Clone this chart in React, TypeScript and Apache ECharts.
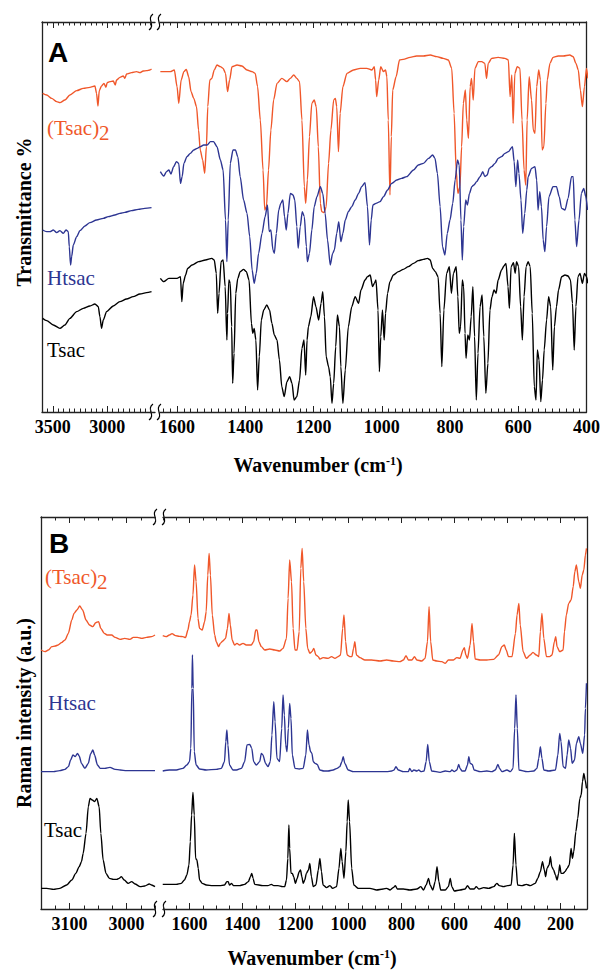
import React, { useEffect, useRef } from 'react';
import * as echarts from 'echarts';

type P = [number, number][];

// ---------- Panel A: IR (wavenumber cm-1, offset transmittance a.u.) ----------
const irTsac2Hi: P = [[3594,956],[3557,951],[3511,941],[3465,931],[3435,928],[3389,936],[3343,951],[3281,964],[3220,971],[3159,974],[3113,978],[3098,956],[3085,918],[3073,964],[3052,978],[3030,986],[3012,974],[3000,988],[2975,991],[2944,993],[2926,981],[2914,996],[2883,1004],[2852,1008],[2837,1001],[2822,1014],[2776,1018],[2730,1021],[2699,1018],[2669,1023],[2638,1024],[2607,1026],[2592,1029]];
const irHtsacHi: P = [[3594,546],[3557,541],[3526,541],[3496,546],[3465,538],[3435,544],[3404,536],[3379,546],[3358,541],[3349,496],[3337,441],[3327,466],[3312,501],[3281,526],[3251,544],[3205,558],[3159,568],[3098,576],[3036,581],[2990,586],[2929,591],[2883,596],[2837,599],[2776,604],[2715,608],[2653,611],[2592,613]];
const irTsacHi: P = [[3594,281],[3557,274],[3496,261],[3435,251],[3389,261],[3343,281],[3281,301],[3220,311],[3159,318],[3113,324],[3082,316],[3067,286],[3052,251],[3036,276],[3006,301],[2944,318],[2883,331],[2822,339],[2761,346],[2699,354],[2638,358],[2592,361]];

const irTsac2Lo: P = [[1649,1021],[1620,1021],[1608,1026],[1600,976],[1595,926],[1588,996],[1580,1021],[1573,1028],[1566,1006],[1559,961],[1551,941],[1543,916],[1537,846],[1532,786],[1525,756],[1519,716],[1514,796],[1510,916],[1504,996],[1498,1001],[1491,1026],[1483,1041],[1473,1036],[1465,1031],[1458,1016],[1452,961],[1446,996],[1439,1036],[1424,1041],[1410,1038],[1395,1026],[1380,1021],[1371,1016],[1364,976],[1356,876],[1348,726],[1343,606],[1338,616],[1332,726],[1325,846],[1317,936],[1307,986],[1293,1001],[1278,991],[1268,1001],[1258,1011],[1249,1001],[1241,991],[1234,876],[1227,676],[1223,626],[1218,696],[1212,826],[1205,926],[1198,936],[1192,916],[1186,796],[1180,626],[1176,601],[1169,598],[1163,616],[1156,746],[1149,846],[1141,936],[1136,941],[1132,916],[1127,781],[1122,896],[1114,976],[1102,1016],[1083,1026],[1063,1031],[1044,1031],[1029,1026],[1022,1036],[1018,996],[1015,946],[1009,996],[1003,1036],[995,1021],[989,1026],[985,1006],[981,876],[976,651],[972,826],[968,966],[958,1006],[948,1056],[937,1058],[917,1064],[898,1068],[878,1068],[858,1071],[839,1066],[820,1061],[805,1056],[795,1031],[788,896],[782,726],[777,656],[771,676],[766,796],[761,926],[755,966],[751,876],[746,821],[741,976],[737,1001],[732,936],[727,1031],[717,1051],[707,1051],[698,1046],[693,1001],[688,1046],[678,1061],[659,1064],[639,1061],[629,1056],[624,946],[619,1011],[615,866],[610,1016],[603,1036],[595,1031],[589,876],[583,726],[578,681],[574,876],[568,1006],[561,936],[556,846],[551,836],[546,976],[540,1026],[535,996],[530,786],[525,796],[519,926],[515,996],[507,1046],[498,1064],[483,1068],[468,1068],[449,1071],[439,1066],[431,1046],[424,1026],[418,966],[412,916],[406,976],[400,1031],[396,1001]];
const irHtsacLo: P = [[1649,721],[1639,708],[1631,721],[1624,726],[1618,714],[1610,736],[1602,751],[1595,746],[1590,686],[1585,706],[1580,746],[1571,766],[1561,776],[1551,786],[1541,791],[1532,796],[1522,801],[1512,801],[1502,811],[1493,811],[1483,796],[1473,756],[1465,726],[1458,576],[1454,451],[1450,576],[1444,746],[1436,786],[1429,786],[1422,766],[1415,706],[1405,636],[1395,596],[1387,526],[1380,426],[1374,386],[1368,416],[1361,476],[1351,536],[1342,586],[1335,621],[1330,541],[1325,546],[1319,486],[1315,476],[1309,536],[1302,606],[1296,626],[1290,636],[1285,586],[1280,546],[1275,596],[1268,656],[1260,651],[1255,636],[1249,556],[1245,491],[1239,556],[1233,601],[1227,586],[1221,496],[1218,451],[1212,476],[1205,546],[1198,616],[1190,646],[1180,676],[1173,656],[1166,596],[1159,516],[1151,441],[1144,476],[1139,486],[1132,536],[1126,571],[1120,511],[1114,536],[1107,576],[1098,601],[1088,616],[1078,636],[1068,656],[1059,676],[1049,688],[1042,616],[1036,501],[1031,576],[1026,621],[1017,626],[1005,631],[995,646],[983,666],[971,686],[956,696],[942,701],[927,706],[907,726],[893,741],[878,746],[863,761],[851,771],[844,761],[837,716],[829,616],[822,496],[815,471],[808,536],[800,576],[792,626],[785,696],[778,756],[773,741],[768,576],[764,456],[760,556],[754,636],[749,621],[743,656],[736,676],[730,681],[722,691],[712,706],[704,721],[698,706],[691,711],[685,731],[678,736],[668,746],[659,761],[649,766],[639,776],[629,781],[617,796],[612,751],[607,676],[602,756],[598,716],[592,636],[587,536],[581,596],[575,666],[571,706],[561,731],[551,736],[546,696],[542,606],[537,661],[532,616],[527,516],[522,481],[517,556],[510,646],[498,676],[488,676],[480,646],[473,611],[463,606],[454,641],[444,706],[439,706],[434,576],[429,496],[422,576],[415,656],[408,671],[402,646],[397,606]];
const irTsacLo: P = [[1649,401],[1639,391],[1624,401],[1610,401],[1600,401],[1590,406],[1586,331],[1582,386],[1575,411],[1569,431],[1556,441],[1537,451],[1517,456],[1498,461],[1491,456],[1485,416],[1481,296],[1477,356],[1471,451],[1465,456],[1459,376],[1454,216],[1452,296],[1448,396],[1444,386],[1440,256],[1437,86],[1433,176],[1428,356],[1422,401],[1415,421],[1405,428],[1397,421],[1389,396],[1382,266],[1378,236],[1374,251],[1369,216],[1364,66],[1359,166],[1353,276],[1346,306],[1337,321],[1329,306],[1322,266],[1315,231],[1307,216],[1300,156],[1293,76],[1286,46],[1278,91],[1270,106],[1263,86],[1257,36],[1249,46],[1241,96],[1234,191],[1228,216],[1223,111],[1219,216],[1215,256],[1208,286],[1200,346],[1193,316],[1185,276],[1178,326],[1173,361],[1168,286],[1163,166],[1156,136],[1151,106],[1146,26],[1141,86],[1135,196],[1130,291],[1124,256],[1120,136],[1114,26],[1107,126],[1098,256],[1088,316],[1078,346],[1068,326],[1061,366],[1049,396],[1042,406],[1034,411],[1027,376],[1022,386],[1017,396],[1011,306],[1007,121],[1003,226],[998,306],[993,216],[989,296],[983,356],[976,391],[966,411],[951,421],[937,428],[922,436],[907,446],[893,454],[878,458],[866,461],[858,456],[851,431],[843,421],[835,406],[829,296],[824,136],[818,306],[810,416],[802,436],[796,356],[790,416],[782,436],[777,346],[773,236],[769,256],[764,396],[760,376],[756,236],[753,161],[748,231],[743,216],[738,286],[733,376],[728,226],[723,36],[718,176],[712,316],[706,351],[701,226],[695,56],[689,146],[683,306],[677,346],[671,366],[665,356],[659,396],[649,426],[642,438],[636,446],[630,376],[626,311],[621,436],[614,448],[609,416],[605,451],[599,436],[593,316],[588,216],[583,346],[577,436],[571,451],[565,436],[559,296],[553,76],[548,36],[544,186],[539,156],[534,31],[529,96],[524,186],[517,276],[511,346],[505,316],[499,126],[494,256],[488,316],[482,366],[473,406],[463,411],[454,408],[447,396],[441,326],[436,186],[431,316],[425,406],[419,416],[412,386],[406,416],[400,406],[396,386]];

// ---------- Panel B: Raman (wavenumber cm-1, offset intensity a.u.) ----------
const raTsac2Hi: P = [[3150,777],[3143,772],[3137,777],[3131,787],[3125,789],[3120,792],[3114,799],[3108,807],[3102,827],[3096,867],[3092,887],[3087,897],[3082,909],[3077,897],[3071,867],[3065,852],[3059,847],[3054,859],[3049,862],[3045,842],[3039,827],[3034,822],[3026,822],[3020,815],[3011,809],[3003,812],[2994,809],[2988,815],[2981,815],[2973,812],[2965,815],[2956,817],[2950,822]];
const raHtsacHi: P = [[3150,412],[3140,412],[3128,412],[3117,415],[3108,419],[3102,427],[3098,447],[3094,462],[3090,457],[3086,467],[3083,459],[3079,437],[3073,422],[3067,437],[3063,465],[3059,477],[3056,462],[3051,432],[3046,422],[3038,422],[3029,425],[3020,419],[3011,417],[3000,415],[2988,415],[2970,415],[2950,415]];
const raTsacHi: P = [[3150,62],[3140,62],[3128,59],[3117,62],[3105,72],[3096,87],[3089,107],[3083,127],[3079,142],[3076,167],[3071,227],[3067,307],[3064,332],[3060,327],[3056,322],[3052,332],[3048,307],[3045,227],[3041,147],[3036,107],[3030,92],[3023,89],[3017,89],[3013,92],[3009,97],[3004,87],[2997,77],[2991,82],[2985,75],[2976,67],[2968,69],[2960,75],[2956,72],[2950,67]];

const raTsac2Lo: P = [[1701,820],[1688,817],[1676,822],[1666,826],[1653,820],[1638,818],[1625,817],[1615,814],[1606,837],[1600,862],[1594,882],[1587,942],[1581,1032],[1575,982],[1568,872],[1562,842],[1552,837],[1543,862],[1537,892],[1531,1002],[1526,1067],[1521,1002],[1514,882],[1505,822],[1499,802],[1490,787],[1484,797],[1474,804],[1464,812],[1457,842],[1451,887],[1446,852],[1439,807],[1430,792],[1421,797],[1411,792],[1398,797],[1386,792],[1367,792],[1358,802],[1350,837],[1345,837],[1338,802],[1329,787],[1316,777],[1297,780],[1278,777],[1260,774],[1247,782],[1234,812],[1228,932],[1222,1047],[1215,982],[1209,842],[1202,777],[1194,777],[1186,832],[1180,1022],[1175,1082],[1169,982],[1161,842],[1154,782],[1146,767],[1138,772],[1131,782],[1123,762],[1114,757],[1108,750],[1096,754],[1077,752],[1064,757],[1051,752],[1039,757],[1030,762],[1022,842],[1017,882],[1011,802],[1005,762],[995,757],[987,757],[981,782],[976,802],[970,762],[957,754],[938,747],[913,747],[881,744],[856,747],[831,744],[806,742],[793,747],[783,760],[774,747],[761,747],[751,757],[742,747],[724,744],[711,752],[702,802],[696,907],[690,802],[682,747],[667,744],[648,742],[635,737],[623,747],[604,747],[591,754],[579,752],[568,777],[563,784],[557,762],[551,752],[541,792],[534,857],[528,802],[522,750],[503,747],[478,747],[452,749],[434,762],[421,787],[412,792],[405,777],[396,757],[383,757],[370,827],[364,882],[357,917],[352,852],[341,772],[329,752],[314,762],[304,770],[291,762],[282,757],[276,832],[270,887],[263,812],[253,757],[241,757],[232,762],[223,802],[218,817],[213,787],[203,772],[190,777],[185,832],[178,882],[169,917],[160,927],[152,967],[146,1012],[140,1032],[131,982],[125,962],[118,1002],[112,1017],[106,1062],[102,1082]];
const raHtsacLo: P = [[1701,414],[1676,417],[1650,417],[1625,422],[1610,432],[1600,442],[1595,482],[1591,662],[1589,762],[1586,662],[1582,472],[1575,432],[1562,420],[1537,417],[1499,419],[1480,422],[1468,442],[1463,502],[1459,537],[1455,492],[1449,432],[1436,417],[1423,417],[1404,422],[1392,442],[1383,492],[1373,494],[1365,482],[1358,442],[1348,432],[1335,442],[1329,467],[1323,462],[1313,437],[1304,427],[1295,442],[1289,522],[1282,622],[1277,562],[1270,452],[1260,442],[1252,542],[1247,642],[1242,582],[1237,492],[1232,472],[1227,542],[1222,617],[1217,572],[1212,462],[1202,422],[1186,420],[1171,422],[1161,462],[1155,537],[1149,492],[1143,472],[1138,467],[1133,442],[1126,437],[1118,434],[1108,417],[1093,414],[1077,414],[1058,417],[1043,422],[1033,427],[1025,442],[1020,457],[1014,437],[1001,417],[982,412],[957,412],[919,412],[881,412],[856,412],[837,414],[828,417],[821,427],[812,417],[793,412],[774,412],[769,422],[761,412],[753,417],[742,414],[735,417],[727,412],[715,414],[707,442],[701,494],[695,442],[686,414],[654,410],[635,414],[616,412],[610,417],[601,412],[591,417],[584,434],[579,422],[572,414],[560,414],[551,432],[546,457],[541,437],[533,434],[526,417],[503,412],[478,414],[459,412],[446,417],[436,434],[430,422],[421,412],[402,417],[389,412],[379,422],[373,542],[368,642],[363,542],[357,417],[326,412],[301,414],[289,422],[282,452],[276,487],[270,452],[263,417],[244,414],[219,417],[210,462],[203,527],[198,502],[190,427],[181,422],[175,462],[169,507],[162,482],[156,437],[147,447],[140,497],[131,517],[125,497],[116,467],[109,522],[106,602],[102,677]];
const raTsacLo: P = [[1701,74],[1676,74],[1650,74],[1631,77],[1619,87],[1610,102],[1602,132],[1597,202],[1592,282],[1587,350],[1582,282],[1577,152],[1572,147],[1567,122],[1562,87],[1552,77],[1537,72],[1512,70],[1486,70],[1468,72],[1459,82],[1454,82],[1449,72],[1441,77],[1434,70],[1411,70],[1392,74],[1378,82],[1370,97],[1365,107],[1360,92],[1354,74],[1323,70],[1304,70],[1291,74],[1282,70],[1266,70],[1249,67],[1241,67],[1234,87],[1229,152],[1225,252],[1222,182],[1217,107],[1212,107],[1207,97],[1200,77],[1194,92],[1186,112],[1181,117],[1176,97],[1171,77],[1165,87],[1159,107],[1151,117],[1146,137],[1140,97],[1133,67],[1123,72],[1114,117],[1108,152],[1102,112],[1096,72],[1083,64],[1070,70],[1060,62],[1045,67],[1036,122],[1029,182],[1024,142],[1017,92],[1010,172],[1005,262],[1001,327],[996,262],[988,122],[980,72],[963,62],[938,62],[919,62],[894,57],[869,60],[856,62],[843,57],[831,64],[823,70],[816,60],[793,60],[768,57],[742,60],[727,67],[717,57],[707,72],[698,92],[692,72],[682,57],[673,82],[666,127],[659,82],[652,57],[635,57],[623,67],[616,92],[610,67],[601,54],[579,57],[560,60],[551,70],[541,60],[526,60],[518,67],[508,60],[490,64],[471,62],[452,67],[440,77],[431,70],[415,67],[400,70],[386,72],[379,132],[374,227],[368,132],[362,72],[345,70],[329,74],[314,70],[295,77],[286,92],[276,112],[268,142],[261,117],[256,97],[251,122],[243,132],[238,157],[233,127],[226,117],[219,102],[213,87],[207,107],[203,132],[198,107],[190,107],[183,112],[175,122],[167,132],[160,182],[155,152],[150,172],[142,232],[135,272],[127,332],[122,342],[117,382],[112,407],[107,387],[102,362]];

// ---------- Tick labels ----------
const irLabelsHi = [3500, 3000];
const irLabelsLo = [1600, 1400, 1200, 1000, 800, 600, 400];
const raLabelsHi = [3100, 3000];
const raLabelsLo = [1600, 1400, 1200, 1000, 800, 600, 400, 200];

const RED = '#f0572a';
const BLUE = '#2d3592';
const BLACK = '#000000';
const SERIF = '"Liberation Serif", "Times New Roman", serif';

function steps(from: number, to: number, step: number): number[] {
  const out: number[] = [];
  for (let v = from; v <= to + 1e-9; v += step) out.push(Math.round(v * 100) / 100);
  return out;
}

export default function App() {
  const ref = useRef<HTMLDivElement>(null);
  useEffect(() => {
    if (!ref.current) return;
    const chart = echarts.init(ref.current, null, { renderer: 'svg' });

    const panels = [
      {
        top: 22, height: 390, ymax: 1170,
        segs: [
          { left: 42, width: 113, min: 2560, max: 3600, labels: irLabelsHi, minor: steps(2600, 3600, 50), lines: [[irTsac2Hi, RED], [irHtsacHi, BLUE], [irTsacHi, BLACK]] },
          { left: 160, width: 427, min: 400, max: 1650, labels: irLabelsLo, minor: steps(400, 1640, 20), lines: [[irTsac2Lo, RED], [irHtsacLo, BLUE], [irTsacLo, BLACK]] },
        ],
      },
      {
        top: 517, height: 392, ymax: 1176,
        segs: [
          { left: 41, width: 114, min: 2950, max: 3150, labels: raLabelsHi, minor: steps(2950, 3150, 25), lines: [[raTsac2Hi, RED], [raHtsacHi, BLUE], [raTsacHi, BLACK]] },
          { left: 163, width: 424, min: 100, max: 1700, labels: raLabelsLo, minor: steps(100, 1700, 50), lines: [[raTsac2Lo, RED], [raHtsacLo, BLUE], [raTsacLo, BLACK]] },
        ],
      },
    ];

    const grid: any[] = [];
    const xAxis: any[] = [];
    const yAxis: any[] = [];
    const series: any[] = [];
    const axisColor = '#222';

    panels.forEach((p) => {
      p.segs.forEach((s, si) => {
        const g = grid.length;
        grid.push({ left: s.left, top: p.top, width: s.width, height: p.height });
        const base = {
          type: 'value', gridIndex: g, inverse: true, min: s.min, max: s.max,
          splitLine: { show: false },
        };
        const mainIdx = xAxis.length;
        for (const pos of ['bottom', 'top']) {
          xAxis.push({
            ...base, position: pos,
            axisLine: { show: true, onZero: false, lineStyle: { color: axisColor, width: 1.3 } },
            axisTick: { show: true, inside: true, length: 6, customValues: s.labels, lineStyle: { color: axisColor, width: 1 } },
            axisLabel: pos === 'bottom'
              ? { show: true, customValues: s.labels, margin: 6, color: '#000', fontFamily: SERIF, fontWeight: 'bold', fontSize: 18, formatter: (v: number) => String(v) }
              : { show: false },
          });
          xAxis.push({
            ...base, position: pos,
            axisLine: { show: false, onZero: false },
            axisTick: { show: true, inside: true, length: 3.5, customValues: s.minor, lineStyle: { color: axisColor, width: 1 } },
            axisLabel: { show: false },
          });
        }
        const yIdx = yAxis.length;
        yAxis.push({
          type: 'value', gridIndex: g, min: 0, max: p.ymax, position: si === 0 ? 'left' : 'right',
          axisLine: { show: true, onZero: false, lineStyle: { color: axisColor, width: 1.3 } },
          axisTick: { show: false }, axisLabel: { show: false }, splitLine: { show: false },
        });
        s.lines.forEach(([data, color]: any) => {
          series.push({
            type: 'line', xAxisIndex: mainIdx, yAxisIndex: yIdx, data,
            showSymbol: false, symbol: 'none', smooth: 0.25, smoothMonotone: 'x',
            lineStyle: { color, width: 1.4 }, silent: true,
          });
        });
      });
    });

    const breakMark = (x: number, y: number) => ({
      type: 'bezierCurve',
      shape: { x1: x + 2, y1: y - 8, cpx1: x - 5, cpy1: y - 3, cpx2: x + 5, cpy2: y + 3, x2: x - 2, y2: y + 8 },
      style: { stroke: '#000', lineWidth: 1.2, fill: 'none' },
    });

    const txt = (text: string, x: number, y: number, font: string, fill: string, align = 'left', rotation = 0) => ({
      type: 'text', x, y, rotation,
      style: { text, font, fill, align, verticalAlign: 'middle' },
    });

    const labelFont = `21px ${SERIF}`;
    const graphic: any[] = [
      breakMark(151, 22), breakMark(159, 22), breakMark(151, 412), breakMark(159, 412),
      breakMark(155, 517), breakMark(164, 517), breakMark(155, 909), breakMark(164, 909),
      txt('A', 48, 52, 'bold 28px "Liberation Sans", Arial, sans-serif', '#000'),
      txt('B', 49, 543, 'bold 28px "Liberation Sans", Arial, sans-serif', '#000'),
      txt('(Tsac)', 47, 128, labelFont, RED),
      txt('2', 99, 133, labelFont, RED),
      txt('Htsac', 47, 278, labelFont, BLUE),
      txt('Tsac', 47, 350, labelFont, BLACK),
      txt('(Tsac)', 45, 577, labelFont, RED),
      txt('2', 97, 582, labelFont, RED),
      txt('Htsac', 48, 703, labelFont, BLUE),
      txt('Tsac', 44, 830, labelFont, BLACK),
      txt('Transmittance %', 24, 212, `bold 20px ${SERIF}`, '#000', 'center', Math.PI / 2),
      txt('Raman intensity (a.u.)', 24, 713, `bold 20px ${SERIF}`, '#000', 'center', Math.PI / 2),
      {
        type: 'text', x: 318, y: 465,
        style: {
          text: '{a|Wavenumber (cm}{s|-1}{a|)}', align: 'center', verticalAlign: 'middle',
          rich: { a: { font: `bold 20px ${SERIF}`, fill: '#000' }, s: { font: `bold 12px ${SERIF}`, fill: '#000', verticalAlign: 'top' } },
        },
      },
      {
        type: 'text', x: 312, y: 958,
        style: {
          text: '{a|Wavenumber (cm}{s|-1}{a|)}', align: 'center', verticalAlign: 'middle',
          rich: { a: { font: `bold 20px ${SERIF}`, fill: '#000' }, s: { font: `bold 12px ${SERIF}`, fill: '#000', verticalAlign: 'top' } },
        },
      },
    ];

    chart.setOption({
      animation: false,
      backgroundColor: '#ffffff',
      grid, xAxis, yAxis, series, graphic,
    });
    return () => chart.dispose();
  }, []);
  return <div ref={ref} style={{ position: 'fixed', left: 0, top: 0, width: 603, height: 970 }} />;
}
